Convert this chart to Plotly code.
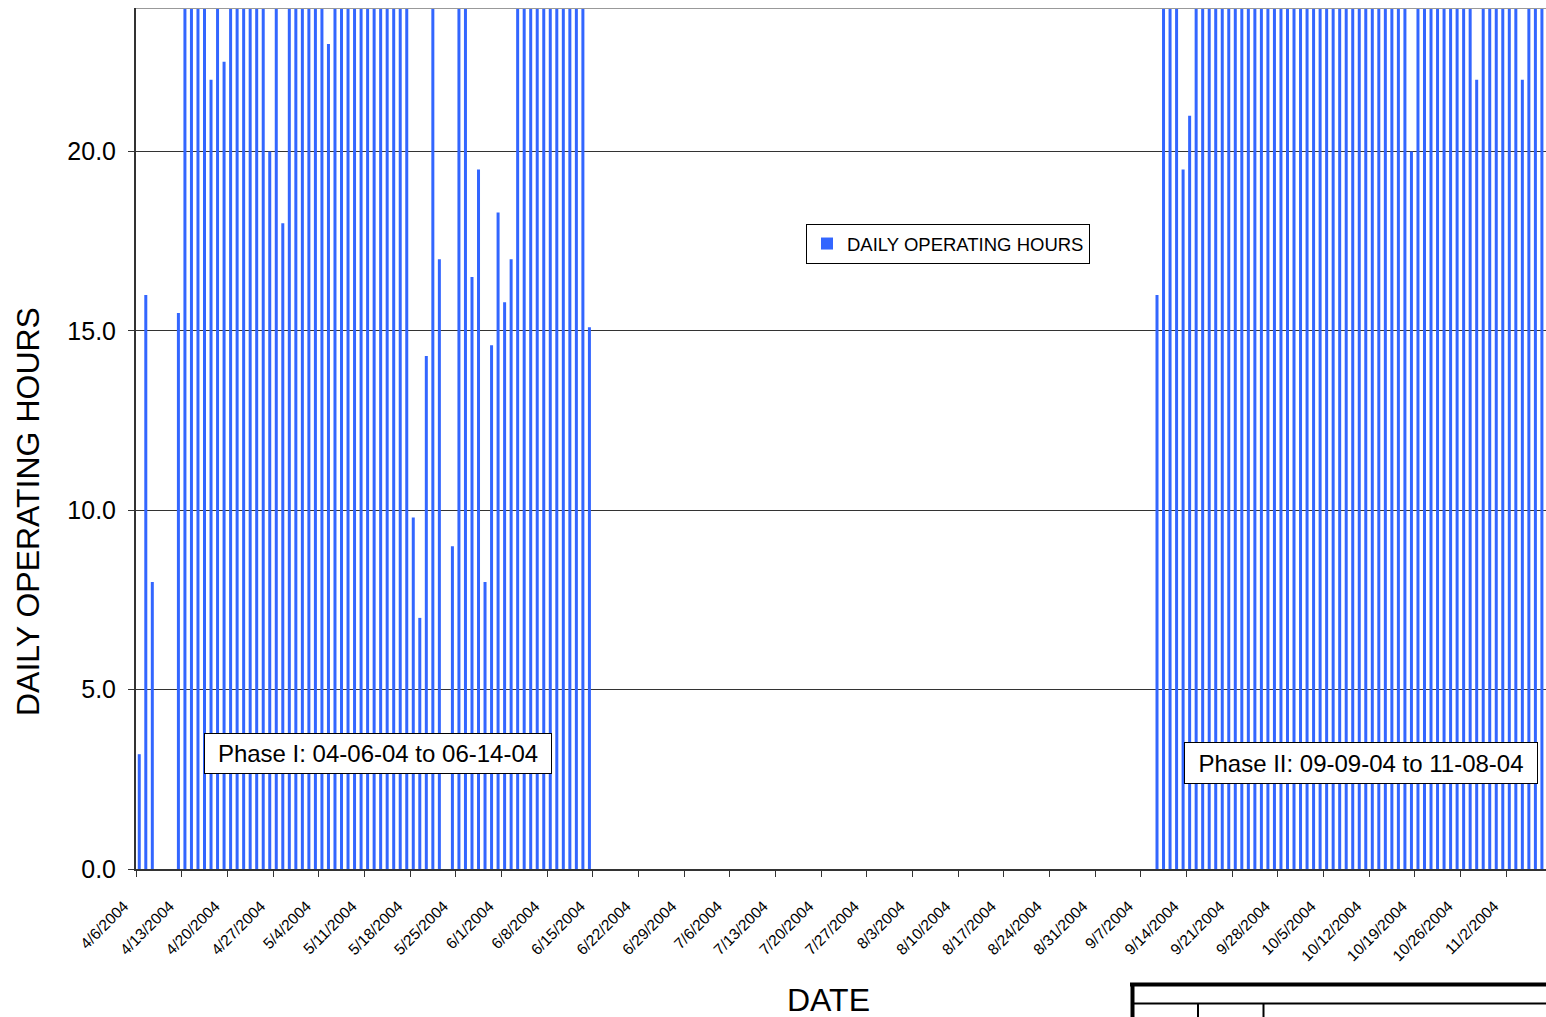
import pandas as pd
import plotly.graph_objects as go

# ---- data ----
phase1_start = "2004-04-06"
phase1_hours = [
    3.2, 16.0, 8.0, 0, 0, 0, 15.5,                    # 4/6 - 4/12
    24, 24, 24, 24, 22.0, 24, 22.5,                   # 4/13 - 4/19
    24, 24, 24, 24, 24, 24, 20.0,                     # 4/20 - 4/26
    24, 18.0, 24, 24, 24, 24, 24,                     # 4/27 - 5/3
    24, 23.0, 24, 24, 24, 24, 24,                     # 5/4 - 5/10
    24, 24, 24, 24, 24, 24, 24,                       # 5/11 - 5/17
    9.8, 7.0, 14.3, 24, 17.0, 0, 9.0,                 # 5/18 - 5/24
    24, 24, 16.5, 19.5, 8.0, 14.6, 18.3,              # 5/25 - 5/31
    15.8, 17.0, 24, 24, 24, 24, 24,                   # 6/1 - 6/7
    24, 24, 24, 24, 24, 24, 15.1,                     # 6/8 - 6/14
]
phase2_start = "2004-09-09"
phase2_hours = [
    16.0, 24, 24, 24, 19.5, 21.0,                     # 9/9 - 9/14
    24, 24, 24, 24, 24, 24, 24, 24,                   # 9/15 - 9/22
    24, 24, 24, 24, 24, 24, 24, 24,                   # 9/23 - 9/30
    24, 24, 24, 24, 24, 24, 24, 24,                   # 10/1 - 10/8
    24, 24, 24, 24, 24, 24, 24, 24, 24,               # 10/9 - 10/17
    20.0,                                             # 10/18
    24, 24, 24, 24, 24, 24, 24, 24, 24,               # 10/19 - 10/27
    22.0,                                             # 10/28
    24, 24, 24, 24, 24, 24,                           # 10/29 - 11/3
    22.0,                                             # 11/4
    24, 24, 24, 24,                                   # 11/5 - 11/8
]
series_name = "DAILY OPERATING HOURS"
y_ticks = [0, 5, 10, 15, 20]
y_tick_labels = ["0.0", "5.0", "10.0", "15.0", "20.0"]
phase1_label = "Phase I: 04-06-04 to 06-14-04"
phase2_label = "Phase II: 09-09-04 to 11-08-04"

dates = list(pd.date_range(phase1_start, periods=len(phase1_hours), freq="D")) + \
        list(pd.date_range(phase2_start, periods=len(phase2_hours), freq="D"))
hours = phase1_hours + phase2_hours

# ---- layout geometry (pixels) ----
W, H = 1546, 1017
L, R, T, B = 136, 0, 8, 148
pw, ph = W - L - R, H - T - B


def px(x):
    return (x - L) / pw


def py(y):
    return (H - B - y) / ph


FONT = "Arial, Liberation Sans, sans-serif"
BLUE = "rgb(51,102,255)"

fig = go.Figure()
fig.add_trace(go.Bar(
    x=dates, y=hours, name=series_name,
    marker=dict(color=BLUE, line=dict(width=0)),
    xperiod=86400000, xperiodalignment="middle",
))

fig.update_layout(
    width=W, height=H,
    margin=dict(l=L, r=R, t=T, b=B, pad=0),
    paper_bgcolor="white", plot_bgcolor="white",
    bargap=0.54,
    font=dict(family=FONT, color="black"),
    showlegend=True,
    legend=dict(
        x=px(806), y=py(224), xanchor="left", yanchor="top",
        bgcolor="white", bordercolor="black", borderwidth=1,
        font=dict(size=18.5, family=FONT), itemwidth=30,
        tracegroupgap=0,
    ),
    xaxis=dict(
        type="date",
        range=["2004-04-06 00:00", "2004-11-08 03:00"],
        tick0="2004-04-06", dtick=7 * 86400000,
        tickformat="%-m/%-d/%Y", tickangle=-45,
        tickfont=dict(size=15.5, family=FONT),
        ticks="outside", ticklen=6, tickcolor="#333", tickwidth=1,
        ticklabelstandoff=14, ticklabelshift=-12,
        showline=True, linecolor="#333", linewidth=2,
        showgrid=False, zeroline=False,
    ),
    yaxis=dict(
        range=[0, 24],
        tickvals=y_ticks, ticktext=y_tick_labels,
        tickfont=dict(size=25, family=FONT),
        ticks="outside", ticklen=6, tickcolor="#333", tickwidth=1,
        ticklabelstandoff=7,
        showline=True, linecolor="#333", linewidth=2,
        showgrid=True, gridcolor="#333", gridwidth=1,
        zeroline=False,
    ),
)

# top border of plot area (grey)
fig.add_shape(type="line", xref="paper", yref="y", x0=0, x1=1, y0=24, y1=24,
              line=dict(color="#999", width=2), layer="above")

# axis titles
fig.add_annotation(text="DATE", xref="paper", yref="paper", x=px(828), y=py(1000),
                   showarrow=False, font=dict(size=32, family=FONT),
                   xanchor="center", yanchor="middle")
fig.add_annotation(text="DAILY OPERATING HOURS", xref="paper", yref="paper",
                   x=px(28), y=py(512), textangle=-90, showarrow=False,
                   font=dict(size=32, family=FONT), xanchor="center", yanchor="middle")

# phase boxes
fig.add_annotation(text=phase1_label, xref="paper", yref="paper", x=px(378), y=py(753.5),
                   showarrow=False, font=dict(size=24, family=FONT),
                   width=334, height=27, borderpad=6,
                   bgcolor="white", bordercolor="black", borderwidth=1,
                   xanchor="center", yanchor="middle")
fig.add_annotation(text=phase2_label, xref="paper", yref="paper", x=px(1361), y=py(763),
                   showarrow=False, font=dict(size=24, family=FONT),
                   width=340, height=28, borderpad=6,
                   bgcolor="white", bordercolor="black", borderwidth=1,
                   xanchor="center", yanchor="middle")

# title-block fragment at bottom right
blk = dict(color="black")
fig.add_shape(type="line", xref="paper", yref="paper", x0=px(1130), x1=px(1560),
              y0=py(984.5), y1=py(984.5), line=dict(width=4, **blk))
fig.add_shape(type="line", xref="paper", yref="paper", x0=px(1132.5), x1=px(1132.5),
              y0=py(983), y1=py(1030), line=dict(width=4, **blk))
fig.add_shape(type="line", xref="paper", yref="paper", x0=px(1134), x1=px(1560),
              y0=py(1003.5), y1=py(1003.5), line=dict(width=2, **blk))
fig.add_shape(type="line", xref="paper", yref="paper", x0=px(1198), x1=px(1198),
              y0=py(1003), y1=py(1030), line=dict(width=2, **blk))
fig.add_shape(type="line", xref="paper", yref="paper", x0=px(1263.5), x1=px(1263.5),
              y0=py(1003), y1=py(1030), line=dict(width=2, **blk))

fig.write_html("out.html")
